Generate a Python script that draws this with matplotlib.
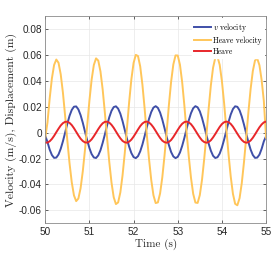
import numpy as np
import matplotlib
matplotlib.use("Agg")
import matplotlib.pyplot as plt

# ---- data ----
time = np.round(50 + 0.05 * np.arange(101), 2)

v_velocity = [
    -0.0025, -0.0073, -0.0131, -0.0173, -0.0195, -0.0193, -0.0169, -0.0125, -0.0067, 0.0000,
    0.0069, 0.0130, 0.0175, 0.0200, 0.0202, 0.0179, 0.0135, 0.0076, 0.0007, -0.0060,
    -0.0120, -0.0166, -0.0192, -0.0196, -0.0176, -0.0136, -0.0079, -0.0014, 0.0056, 0.0119,
    0.0168, 0.0197, 0.0203, 0.0185, 0.0146, 0.0089, 0.0021, -0.0047, -0.0109, -0.0158,
    -0.0189, -0.0197, -0.0182, -0.0145, -0.0092, -0.0027, 0.0042, 0.0107, 0.0159, 0.0193,
    0.0204, 0.0191, 0.0155, 0.0101, 0.0035, -0.0034, -0.0097, -0.0150, -0.0184, -0.0197,
    -0.0187, -0.0154, -0.0103, -0.0041, 0.0028, 0.0095, 0.0150, 0.0188, 0.0204, 0.0195,
    0.0164, 0.0113, 0.0049, -0.0020, -0.0085, -0.0140, -0.0179, -0.0196, -0.0190, -0.0162,
    -0.0115, -0.0054, 0.0014, 0.0082, 0.0140, 0.0182, 0.0203, 0.0199, 0.0172, 0.0124,
    0.0062, -0.0007, -0.0073, -0.0131, -0.0173, -0.0195, -0.0193, -0.0170, -0.0125, -0.0067,
    -0.0028,
]

heave_velocity = [
    -0.0040, 0.0078, 0.0264, 0.0418, 0.0522, 0.0564, 0.0539, 0.0450, 0.0308, 0.0128,
    -0.0062, -0.0238, -0.0384, -0.0485, -0.0529, -0.0509, -0.0429, -0.0298, -0.0131, 0.0056,
    0.0247, 0.0409, 0.0522, 0.0573, 0.0556, 0.0472, 0.0333, 0.0153, -0.0042, -0.0228,
    -0.0386, -0.0499, -0.0552, -0.0539, -0.0462, -0.0330, -0.0159, 0.0034, 0.0237, 0.0412,
    0.0538, 0.0600, 0.0591, 0.0511, 0.0370, 0.0186, -0.0019, -0.0205, -0.0366, -0.0484,
    -0.0544, -0.0539, -0.0470, -0.0346, -0.0180, 0.0009, 0.0214, 0.0393, 0.0526, 0.0596,
    0.0595, 0.0524, 0.0390, 0.0209, 0.0004, -0.0184, -0.0349, -0.0473, -0.0540, -0.0543,
    -0.0482, -0.0363, -0.0201, -0.0015, 0.0185, 0.0365, 0.0501, 0.0577, 0.0585, 0.0523,
    0.0398, 0.0227, 0.0028, -0.0166, -0.0340, -0.0473, -0.0550, -0.0561, -0.0506, -0.0390,
    -0.0228, -0.0039, 0.0158, 0.0336, 0.0475, 0.0557, 0.0572, 0.0520, 0.0405, 0.0243,
    -0.0040,
]

heave = [
    -0.0077, -0.0077, -0.0067, -0.0049, -0.0025, 0.0003, 0.0030, 0.0055, 0.0073, 0.0083,
    0.0084, 0.0075, 0.0058, 0.0034, 0.0006, -0.0022, -0.0047, -0.0065, -0.0076, -0.0077,
    -0.0069, -0.0052, -0.0028, -0.0001, 0.0027, 0.0052, 0.0072, 0.0083, 0.0084, 0.0077,
    0.0060, 0.0037, 0.0009, -0.0019, -0.0044, -0.0064, -0.0075, -0.0078, -0.0070, -0.0054,
    -0.0031, -0.0004, 0.0024, 0.0050, 0.0070, 0.0082, 0.0085, 0.0078, 0.0062, 0.0040,
    0.0013, -0.0015, -0.0041, -0.0062, -0.0074, -0.0078, -0.0072, -0.0057, -0.0034, -0.0007,
    0.0021, 0.0047, 0.0068, 0.0081, 0.0085, 0.0079, 0.0065, 0.0043, 0.0016, -0.0012,
    -0.0038, -0.0060, -0.0073, -0.0078, -0.0073, -0.0059, -0.0037, -0.0011, 0.0017, 0.0044,
    0.0066, 0.0080, 0.0085, 0.0081, 0.0067, 0.0046, 0.0019, -0.0009, -0.0035, -0.0057,
    -0.0072, -0.0078, -0.0074, -0.0061, -0.0040, -0.0014, 0.0014, 0.0041, 0.0063, 0.0079,
    0.0085,
]

series_labels = ["$v$ velocity", "Heave velocity", "Heave"]
x_ticks = [50, 51, 52, 53, 54, 55]
x_tick_labels = ["50", "51", "52", "53", "54", "55"]
y_ticks = [-0.06, -0.04, -0.02, 0, 0.02, 0.04, 0.06, 0.08]
y_tick_labels = ["-0.06", "-0.04", "-0.02", "0", "0.02", "0.04", "0.06", "0.08"]
x_label = "Time (s)"
y_label = "Velocity (m/s), Displacement (m)"

# ---- styling ----
plt.rcParams["mathtext.fontset"] = "cm"
plt.rcParams["axes.formatter.use_mathtext"] = False

fig = plt.figure(figsize=(2.76, 2.76), dpi=100)
ax = fig.add_axes([0.164, 0.191, 0.800, 0.751])

c_blue = "#3f4fa8"
c_yellow = "#ffc65a"
c_red = "#e8272b"

ax.plot(time, v_velocity, color=c_blue, lw=1.4, label=series_labels[0])
ax.plot(time, heave_velocity, color=c_yellow, lw=1.4, label=series_labels[1])
ax.plot(time, heave, color=c_red, lw=1.4, label=series_labels[2])

ax.set_xlim(50, 55)
ax.set_ylim(-0.07, 0.09)
ax.set_xticks(x_ticks)
ax.set_xticklabels(x_tick_labels, family="Liberation Sans", fontsize=7.2, color="#262626")
ax.set_yticks(y_ticks)
ax.set_yticklabels(y_tick_labels, family="Liberation Sans", fontsize=7.2, color="#262626")
ax.tick_params(direction="in", length=2.5, width=0.5, colors="#262626", pad=2.5,
               top=True, right=True)
ax.grid(True, color="#e8e8e8", lw=0.5)
ax.set_axisbelow(True)
for s in ax.spines.values():
    s.set_color("#8a8a8a")
    s.set_linewidth(0.6)

ax.set_xlabel(x_label, family="cmr10", fontsize=8.0, color="#262626", labelpad=1.5)
ax.set_ylabel(y_label, family="cmr10", fontsize=8.4, color="#262626", labelpad=1.5)

leg = ax.legend(loc="upper right", prop={"family": "cmr10", "size": 5.5},
                frameon=True, fancybox=False, edgecolor="white", facecolor="white",
                framealpha=1.0, handlelength=2.2, handletextpad=0.3,
                labelspacing=0.35, borderaxespad=0.3, borderpad=0.3)
for line in leg.get_lines():
    line.set_linewidth(1.4)

fig.savefig("out.png", dpi=100)
